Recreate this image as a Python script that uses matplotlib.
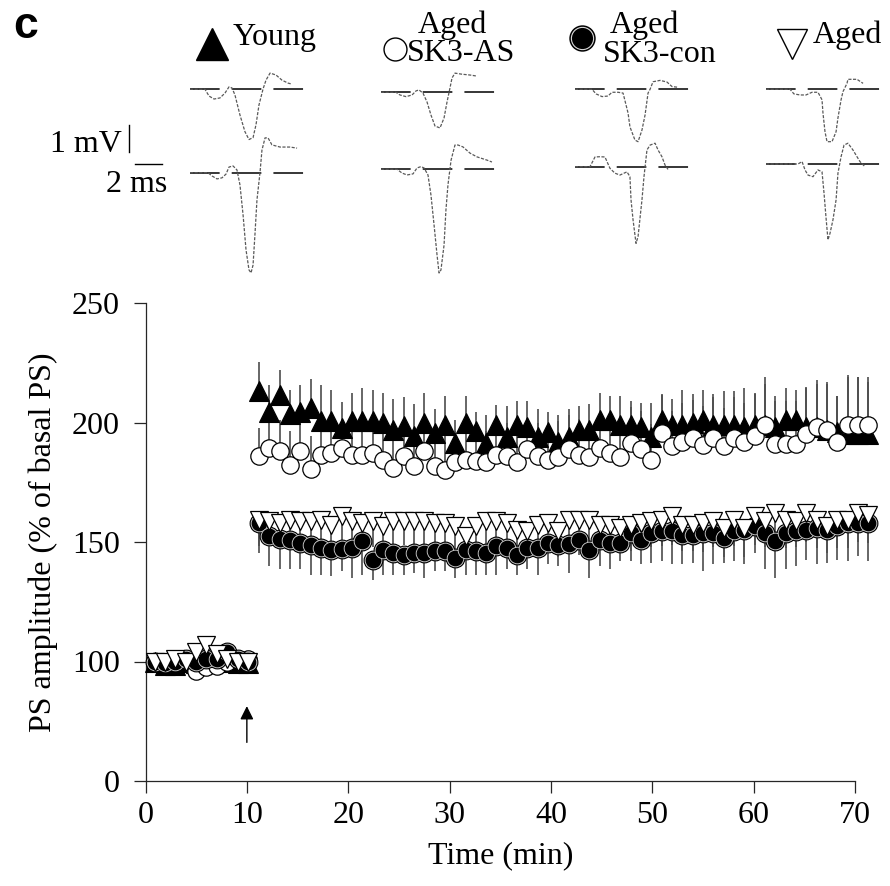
import numpy as np
import matplotlib.pyplot as plt

plt.rcParams['font.family'] = ['Liberation Serif', 'DejaVu Serif']
plt.rcParams['font.size'] = 23

# ---- time points (min) ----
base_t = np.linspace(0.9, 10.1, 10)
post_t = np.linspace(11.2, 71.3, 60)

# ---- baseline (0-10 min), % of basal PS ----
young_base = [100, 97, 97, 100, 99, 101, 102, 100, 99, 99]
as_base = [99, 100, 101, 101, 92, 95, 96, 100, 101, 101]
con_base = [100, 99, 100, 101, 100, 101, 101, 104, 101, 100]
aged_base = [100, 100, 101, 100, 104, 107, 103, 101, 100, 100]

# ---- after tetanus ----
young = [213, 204.6, 211.6, 203.7, 204.6, 206, 200.5, 200.5, 197.7, 200.5,
         200.5, 200.5, 199.6, 197, 198.7, 194.2, 199.6, 195.7, 199, 191.5,
         200, 196.3, 191.5, 199, 194, 199, 198, 194, 196, 192,
         194, 197, 197, 201, 201, 199, 199, 198, 194, 201,
         199, 199, 200, 201, 199, 199, 199, 198, 199, 199,
         198, 201, 201, 198, 198, 197, 196, 195, 195, 195]
young_err = [12.5, 11, 10.4, 9.7, 11, 12, 15, 13, 11, 12,
             14, 13, 12.7, 13, 12, 13.7, 12.7, 10, 12, 9.5,
             11, 8.3, 11.5, 8.4, 12.7, 10, 10.8, 11.6, 8.6, 11,
             11.6, 9.7, 10.9, 11.3, 10.2, 12, 10, 10, 14, 11,
             10.8, 14.4, 12, 12.4, 13, 14, 14, 16.5, 13, 20,
             13, 13.4, 12.4, 17, 19.8, 19.8, 15, 25, 24, 22]

sk3_as = [185.8, 189.3, 187.9, 182.4, 187.9, 180.5, 186.5, 187.2, 189.3, 186.5,
          186.5, 187.2, 184.4, 181, 185.8, 182, 187.9, 182, 180.3, 183.3,
          184.4, 183.7, 183.3, 186.5, 185.8, 183.3, 189, 185.8, 184.4, 185.5,
          189, 186.5, 185.5, 189.3, 187.2, 185.5, 191.4, 189, 184.4, 195.6,
          190, 192, 193.5, 190.7, 193.5, 190, 193.5, 192, 194.2, 199,
          191, 191, 191, 195.3, 198, 197, 192, 199, 199, 199]
sk3_as_err = [12, 12, 13, 14, 13, 13.7, 12, 13, 12, 13,
              12, 12, 13, 14, 13, 14, 13, 13, 14, 13,
              13, 14, 13, 13, 14, 14, 13, 14, 14, 15,
              14, 15, 14, 15, 15, 14, 15, 16, 15, 16,
              15, 16, 16, 16, 17, 16, 17, 16, 18, 17,
              18, 18, 18, 19, 18, 19, 19, 20, 20, 20]

sk3_con = [158, 152.4, 151.3, 151, 149.6, 148.9, 147.5, 146.8, 146.9, 147.5,
           150.3, 142.6, 146.8, 145.4, 144.7, 145.4, 145.4, 146.1, 146.1, 143.3,
           146.8, 146.1, 145.4, 148.2, 147.5, 144.7, 147.5, 147.5, 149.6, 148.9,
           149.3, 151, 146.8, 151, 149.6, 149.6, 153.8, 151, 153.8, 154.5,
           154.5, 153.1, 153.1, 153.8, 153.8, 151.7, 154.5, 155.2, 156.6, 153.8,
           150.3, 153.8, 154.5, 155.2, 155.9, 155.2, 156.6, 158, 158, 158]
sk3_con_err = [12.6, 12.6, 12.8, 12.5, 11.1, 12.5, 11.1, 11.1, 9.1, 12.5,
               13.9, 8.3, 10.4, 9, 8.3, 8.3, 10.4, 8.3, 8.3, 8.3,
               10.4, 9.7, 9, 11.8, 9, 8.3, 9, 11.1, 9, 9,
               12.2, 6.3, 11.8, 11.1, 11.1, 7.7, 11.9, 10.4, 12.6, 12.6,
               13.9, 12.5, 11.9, 16, 13.2, 10.5, 12.6, 14.6, 11.2, 15.3,
               15.3, 15.3, 14.6, 12.6, 15.3, 14, 14, 16.1, 14, 16.1]

aged = [159.4, 158.7, 158, 159.4, 158.7, 158.7, 159.4, 157.3, 160.7, 158.7,
        158, 158.7, 156.6, 158.7, 158.7, 158.7, 158.7, 158, 158, 156.6,
        152.4, 156.6, 158.7, 158.7, 158, 155.2, 154.5, 157.3, 158, 154.8,
        159.4, 159.4, 159.4, 157.3, 157.3, 155.9, 157.3, 158, 158.7, 159.4,
        160.8, 157.3, 157.3, 158, 158.7, 155.9, 159.4, 155.9, 160.8, 158.7,
        162.2, 159.4, 158.7, 162.2, 159.4, 156.6, 159.4, 159.4, 162.2, 161.5]
aged_err = [11, 10, 10, 11, 10, 11, 10, 11, 10, 11,
            10, 11, 10, 11, 10, 11, 10, 10, 11, 10,
            9, 10, 11, 10, 11, 10, 10, 11, 10, 11,
            11, 10, 11, 10, 11, 10, 11, 10, 11, 11,
            12, 11, 11, 12, 11, 12, 11, 12, 12, 11,
            12, 12, 11, 12, 12, 11, 12, 12, 12, 12]

# ---- sample field potentials (ms, mV), before (pre) and after (post) ----
young_pre_ms = [0, 1.11, 1.41, 1.78, 2.22, 2.59, 2.89, 3.11, 3.33, 3.70, 4.07,
                4.37, 4.67, 4.89, 5.11, 5.41, 5.63, 5.93, 6.37, 6.81, 7.26, 7.56]
young_pre_mv = [0, 0, -0.25, -0.36, -0.32, -0.14, 0.09, 0.05, -0.21, -0.95, -1.57,
                -1.86, -1.79, -1.31, -0.58, 0.01, 0.34, 0.6, 0.53, 0.34, 0.23, 0.19]
young_post_ms = [0, 1.33, 1.63, 2.0, 2.37, 2.67, 2.89, 3.19, 3.48, 3.70, 3.93, 4.15,
                 4.37, 4.52, 4.67, 4.81, 4.96, 5.19, 5.33, 5.56, 5.78, 6.07, 6.67,
                 7.41, 7.93]
young_post_mv = [0, 0, -0.12, -0.23, -0.19, -0.05, 0.21, 0.25, 0.10, -0.45, -1.56,
                 -2.86, -3.6, -3.71, -3.42, -2.3, -1.01, 0.03, 0.84, 1.29, 1.29,
                 1.03, 0.95, 0.95, 0.91]
as_pre_ms = [0, 1.11, 1.41, 1.85, 2.30, 2.59, 2.81, 3.11, 3.41, 3.70, 4.0, 4.37,
             4.67, 4.89, 5.11, 5.26, 5.48, 6.0, 6.59, 7.11]
as_pre_mv = [0, 0, -0.1, -0.16, -0.1, 0.05, 0.09, -0.03, -0.36, -0.84, -1.25,
             -1.32, -0.95, -0.36, 0.16, 0.53, 0.71, 0.67, 0.64, 0.6]
as_post_ms = [0, 1.19, 1.56, 1.93, 2.37, 2.67, 2.96, 3.19, 3.48, 3.70, 3.93, 4.15,
              4.30, 4.44, 4.67, 4.81, 4.96, 5.19, 5.48, 5.70, 6.07, 6.59, 7.11,
              7.85, 8.22]
as_post_mv = [0, 0, -0.14, -0.21, -0.17, 0.05, 0.1, 0.05, -0.21, -0.95, -2.06,
              -3.17, -3.84, -3.73, -2.81, -1.51, -0.58, 0.34, 0.9, 0.9, 0.83, 0.6,
              0.46, 0.34, 0.27]
con_pre_ms = [0, 1.26, 1.56, 2.0, 2.44, 2.74, 3.19, 3.56, 3.93, 4.07, 4.44, 4.67,
              4.96, 5.19, 5.41, 5.56, 5.78, 6.30, 6.81, 7.19, 7.56]
con_pre_mv = [0, 0, -0.17, -0.27, -0.25, -0.11, -0.11, -0.14, -0.88, -1.39, -1.88,
              -1.94, -1.51, -0.95, -0.14, 0, 0.28, 0.33, 0.27, 0.1, 0.08]
con_post_ms = [0, 1.11, 1.48, 1.85, 2.22, 2.37, 2.59, 2.96, 3.33, 3.85, 4.07, 4.15,
               4.30, 4.52, 4.67, 4.96, 5.11, 5.33, 5.56, 5.93, 6.15, 6.44, 6.67, 6.89]
con_post_mv = [0, 0, 0.36, 0.37, 0.36, 0.19, -0.06, -0.24, -0.31, -0.19, -0.37,
               -1.23, -1.97, -2.84, -2.59, -1.23, -0.37, 0.62, 0.80, 0.87, 0.62,
               0.37, 0.06, -0.1]
aged_pre_ms = [0, 1.78, 2.07, 2.52, 2.96, 3.41, 3.85, 4.15, 4.22, 4.37, 4.52, 4.89,
               5.19, 5.33, 5.56, 5.70, 6.0, 6.07, 6.74, 7.19]
aged_pre_mv = [0, 0, -0.17, -0.21, -0.21, -0.11, -0.11, -0.39, -0.88, -1.57, -1.94,
               -1.94, -1.57, -1.06, -0.39, -0.09, 0.22, 0.37, 0.37, 0.22]
aged_post_ms = [0, 2.37, 2.67, 2.89, 3.11, 3.48, 3.85, 4.15, 4.30, 4.44, 4.59, 4.74,
                4.96, 5.19, 5.33, 5.56, 5.78, 6.07, 6.44, 6.74, 6.96, 7.33]
aged_post_mv = [0, 0, 0.09, -0.22, -0.41, -0.47, -0.22, -0.29, -1.09, -1.95, -2.81,
                -2.57, -2.07, -1.33, -0.34, 0.27, 0.70, 0.77, 0.52, 0.27, 0.09, -0.1]

W, H = 890, 886
fig = plt.figure(figsize=(W / 100, H / 100), dpi=100)


def fwd(y):
    y = np.asarray(y, dtype=float)
    return np.where(y <= 100, y / 100.0, 1 + (y - 100) / 50.0)


def inv(t):
    t = np.asarray(t, dtype=float)
    return np.where(t <= 1, t * 100.0, 100 + (t - 1) * 50.0)


# main axes
ax = fig.add_axes([145.5 / W, (H - 781) / H, (855 - 145.5) / W, (781 - 303) / H])
ax.set_yscale('function', functions=(fwd, inv))
ax.set_xlim(0, 70)
ax.set_ylim(0, 250)
ax.set_yticks([0, 100, 150, 200, 250])
ax.set_xticks(range(0, 71, 10))
for s in ['top', 'right']:
    ax.spines[s].set_visible(False)
for s in ['left', 'bottom']:
    ax.spines[s].set_linewidth(0.9)
    ax.spines[s].set_color('0.15')
ax.tick_params(direction='out', length=8.5, width=0.9, color='0.15')
ax.tick_params(axis='y', pad=10)
ax.tick_params(axis='x', pad=6)
ax.set_xlabel('Time (min)', labelpad=8)
ax.set_ylabel('PS amplitude (% of basal PS)', labelpad=10)

ecol = '0.3'
z = np.zeros(len(post_t))
ax.errorbar(post_t, young, yerr=[z, young_err], fmt='none', ecolor=ecol,
            elinewidth=1.2, capsize=0, clip_on=False, zorder=2)
ax.errorbar(post_t, sk3_as, yerr=[z, sk3_as_err], fmt='none', ecolor=ecol,
            elinewidth=1.2, capsize=0, clip_on=False, zorder=2)
ax.errorbar(post_t, sk3_con, yerr=[sk3_con_err, z], fmt='none', ecolor=ecol,
            elinewidth=1.2, capsize=0, clip_on=False, zorder=2)
ax.errorbar(post_t, aged, yerr=[aged_err, z], fmt='none', ecolor=ecol,
            elinewidth=1.2, capsize=0, clip_on=False, zorder=2)

all_t = np.concatenate([base_t, post_t])
ax.plot(all_t, young_base + young, '^', ms=14, mfc='k', mec='k', mew=0.8,
        clip_on=False, zorder=3)
ax.plot(all_t, as_base + sk3_as, 'o', ms=12.5, mfc='w', mec='k', mew=0.9,
        clip_on=False, zorder=4)
ax.plot(all_t, con_base + sk3_con, 'o', ms=13.5, mfc='k', mec='k', mew=0.8,
        clip_on=False, zorder=5)
ax.plot(all_t, con_base + sk3_con, 'o', ms=12, mfc='k', mec='0.85', mew=0.6,
        clip_on=False, zorder=5)
ax.plot(all_t, aged_base + aged, 'v', ms=13.5, mfc='w', mec='k', mew=0.9,
        clip_on=False, zorder=6)

# tetanus arrow
ax.annotate('', xy=(10, 65), xytext=(10, 30),
            arrowprops=dict(arrowstyle='-|>', lw=1.0, color='k', mutation_scale=20))

# ---- sample traces ----
col_x = [190, 381, 575, 766]
top_base = [89.3, 92.3, 89.3, 89.3]
bot_base = [172.7, 169.3, 166.7, 164.0]
traces = [(young_pre_ms, young_pre_mv, young_post_ms, young_post_mv),
          (as_pre_ms, as_pre_mv, as_post_ms, as_post_mv),
          (con_pre_ms, con_pre_mv, con_post_ms, con_post_mv),
          (aged_pre_ms, aged_pre_mv, aged_post_ms, aged_post_mv)]
px_ms, px_mv = 13.5, 27.0
y0, y1 = 55, 285
dash = (0, (19.4, 7.9))
for i, (pm, pv, qm, qv) in enumerate(traces):
    tax = fig.add_axes([col_x[i] / W, (H - y1) / H, 140 / W, (y1 - y0) / H])
    tax.set_xlim(0, 140 / px_ms)
    tax.set_ylim(-(y1 - top_base[i]) / px_mv, (top_base[i] - y0) / px_mv)
    tax.axis('off')
    off = -(bot_base[i] - top_base[i]) / px_mv
    tax.plot([0, 9.15], [0, 0], color='k', lw=1.1, ls=dash)
    tax.plot([0, 9.15], [off, off], color='k', lw=1.1, ls=dash)
    tax.plot(pm, pv, color='0.35', lw=0.9, ls=(0, (2.5, 1.2)))
    tax.plot(qm, np.array(qv) + off, color='0.35', lw=0.9, ls=(0, (2.5, 1.2)))
    if i == 0:
        tax.plot([-4.52, -4.52], [-1.32, -2.32], color='k', lw=1.0, clip_on=False)
        tax.plot([-4.07, -2.07], [-2.77, -2.77], color='k', lw=1.0, clip_on=False)
        tax.text(-5.04, -2.32, '1 mV', ha='right', va='baseline')
        tax.text(-3.93, -3.80, '2 ms', ha='center', va='baseline')

# ---- legend row and panel letter ----
lg = fig.add_axes([0, 0, 1, 1])
lg.set_xlim(0, W)
lg.set_ylim(H, 0)
lg.axis('off')
lg.plot(212, 44, '^', ms=23, mfc='k', mec='k')
lg.text(233, 45, 'Young', ha='left', va='baseline')
lg.plot(395, 49, 'o', ms=16.5, mfc='w', mec='k', mew=1.0)
lg.text(418, 33, 'Aged', ha='left', va='baseline')
lg.text(407, 61, 'SK3-AS', ha='left', va='baseline')
lg.plot(582, 38, 'o', ms=18, mfc='k', mec='k', mew=1.0)
lg.plot(582, 38, 'o', ms=16, mfc='k', mec='0.85', mew=0.8)
lg.text(610, 33, 'Aged', ha='left', va='baseline')
lg.text(603, 62, 'SK3-con', ha='left', va='baseline')
lg.plot(792, 44, 'v', ms=21, mfc='w', mec='k', mew=1.0)
lg.text(813, 43, 'Aged', ha='left', va='baseline')
lg.text(13, 38, 'c', ha='left', va='baseline', fontsize=32, fontweight='bold',
        family=['Liberation Sans', 'DejaVu Sans'])

fig.savefig('out.png', dpi=100)
